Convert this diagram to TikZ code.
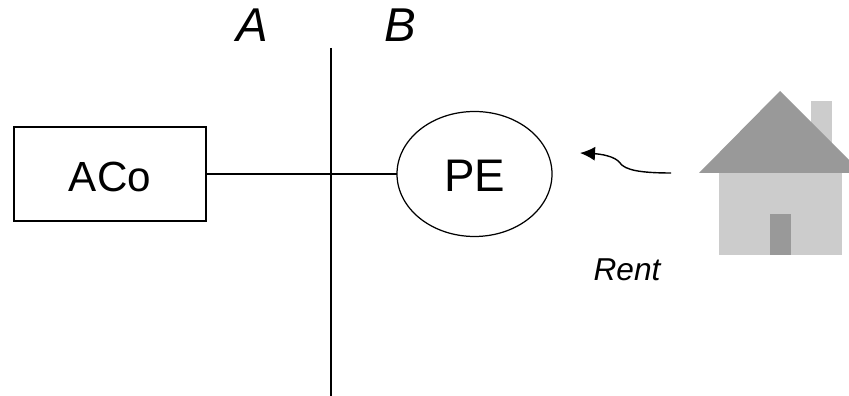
\documentclass[tikz,border=0pt]{standalone}
\usepackage{fontspec}
\setmainfont{Liberation Sans}
\usetikzlibrary{arrows.meta, shapes.geometric}
\definecolor{CRoof}{HTML}{999999}
\definecolor{CWall}{HTML}{CCCCCC}
\tikzset{
    party/.style={inner sep=0pt, outer sep=0pt, line width=0.7pt, text height=0.72cm, text depth=0pt},
    zone/.style={font=\fontsize{27}{32}\selectfont\itshape},
}
\begin{document}
\begin{tikzpicture}
    \useasboundingbox (0, 0) rectangle (16.98, 7.92);

    % House
    \fill[CWall] (16.22, 5.02) rectangle (16.64, 5.9);
    \fill[CWall] (14.38, 2.82) rectangle (16.84, 4.46);
    \fill[CRoof] (13.98, 4.46) -- (15.6, 6.1) -- (16.98, 4.72) -- (16.98, 4.46) -- cycle;
    \fill[CRoof] (15.4, 2.82) rectangle (15.82, 3.64);

    % Parties
    \node[party, draw, font=\fontsize{24}{29}\selectfont, minimum width=3.84cm, minimum height=1.88cm] (aco) at (2.2, 4.44) {ACo};
    \node[party, draw, ellipse, font=\fontsize{26}{31}\selectfont, minimum width=3.1cm, minimum height=2.5cm] (pe) at (9.49, 4.44) {PE};
    \draw[line width=0.7pt] (aco) -- (pe);

    % Boundary
    \coordinate (top) at (6.62, 6.96);
    \coordinate (bottom) at (6.62, 0);
    \draw[line width=0.8pt] (top) -- (bottom);
    \node[zone] (labelA) at (5.05, 7.41) {A};
    \node[zone] (labelB) at (8, 7.41) {B};

    % Rent
    \coordinate (rentstart) at (13.42, 4.46);
    \coordinate (rentend) at (11.6, 4.86);
    \draw[-{Latex[length=0.3cm, width=0.28cm]}, line width=0.8pt] (rentstart) .. controls (12.8, 4.46) and (12.5, 4.52) .. (12.4, 4.66) .. controls (12.3, 4.8) and (12, 4.84) .. (rentend);
    \node[font=\fontsize{18}{22}\selectfont\itshape] (rent) at (12.54, 2.53) {Rent};
\end{tikzpicture}
\end{document}
